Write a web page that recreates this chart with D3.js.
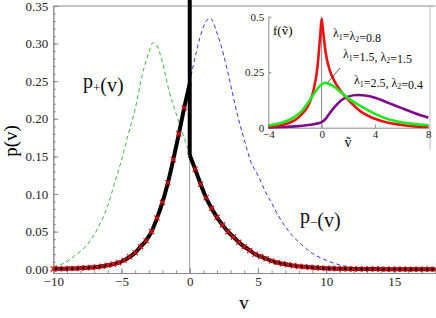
<!DOCTYPE html>
<html>
<head>
<meta charset="utf-8">
<script src="https://cdn.jsdelivr.net/npm/d3@7"></script>
<style>
  body { margin: 0; background: #fff; }
  svg { display: block; font-family: "Liberation Serif", "DejaVu Serif", serif; }
</style>
</head>
<body>
<svg id="chart"></svg>
<script>
// main chart: p(v), left branch (v <= 0) and right branch (v >= 0)
var leftV = [-10, -9.6, -9.2, -8.8, -8.4, -8, -7.6, -7.2, -6.8, -6.4, -6, -5.6, -5.2,
  -4.8, -4.4, -4, -3.6, -3.2, -2.8, -2.4, -2, -1.6, -1.2, -0.8, -0.4, 0];
var leftP = [0.0005, 0.0006, 0.0007, 0.0009, 0.0011, 0.0015, 0.0019, 0.0024, 0.0031, 0.004,
  0.0052, 0.0068, 0.0088, 0.012, 0.0165, 0.022, 0.03, 0.038, 0.05, 0.068, 0.089, 0.115,
  0.146, 0.18, 0.215, 0.247];
var rightV = [0, 0.4, 0.8, 1.2, 1.6, 2, 2.4, 2.8, 3.2, 3.6, 4, 4.4, 4.8, 5.2, 5.6, 6, 6.4,
  6.8, 7.2, 7.6, 8, 8.4, 8.8, 9.2, 9.6, 10, 10.4, 10.8, 11.2, 11.6, 12, 12.4, 12.8, 13.2,
  13.6, 14, 14.4, 14.8, 15.2, 15.6, 16, 16.4, 16.8, 17.2, 17.6, 18];
var rightP = [0.152, 0.133, 0.113, 0.095, 0.081, 0.069, 0.059, 0.05, 0.043, 0.036, 0.03,
  0.025, 0.02, 0.017, 0.014, 0.011, 0.009, 0.0073, 0.0059, 0.0048, 0.0038, 0.0032, 0.0026,
  0.0021, 0.0016, 0.0012, 0.001, 0.0008, 0.0006, 0.0005, 0.0004, 0.0003, 0.0003, 0.0002,
  0.0002, 0.0002, 0.0001, 0.0001, 0.0001, 0.0001, 0.0001, 0, 0, 0, 0, 0];
var deltaTop = 0.36;

// dashed p+(v) and p-(v)
var plusV = [-10, -9, -8.5, -8, -7.5, -7, -6.5, -6, -5.5, -5, -4.5, -4, -3.5, -3, -2.7,
  -2.4, -2, -1.5, -1, -0.5, 0];
var plusP = [0.0035, 0.01, 0.017, 0.024, 0.033, 0.046, 0.063, 0.085, 0.115, 0.145, 0.18,
  0.213, 0.257, 0.288, 0.301, 0.297, 0.275, 0.236, 0.207, 0.18, 0.152];
var minusV = [0, 0.25, 0.5, 0.75, 1, 1.5, 2, 2.5, 3, 3.5, 4, 4.5, 5, 5.5, 6, 6.5, 7, 7.5,
  8, 9, 10, 11, 12, 13, 14, 16, 18];
var minusP = [0.248, 0.27, 0.29, 0.308, 0.322, 0.334, 0.314, 0.284, 0.245, 0.205, 0.172,
  0.142, 0.125, 0.105, 0.088, 0.071, 0.057, 0.045, 0.036, 0.021, 0.012, 0.0057, 0.0025,
  0.001, 0.0004, 0, 0];

var xTicks = [-10, -5, 0, 5, 10, 15];
var yTicks = [0, 0.05, 0.1, 0.15, 0.2, 0.25, 0.3, 0.35];

// inset: f(v~)
var insetV = [-4, -3, -2.5, -2, -1.5, -1, -0.6, -0.3, -0.1, 0, 0.1, 0.3, 0.6, 1, 1.5, 2,
  3, 4, 5, 6, 7, 8];
var redF = [0.004, 0.012, 0.02, 0.034, 0.06, 0.1, 0.17, 0.28, 0.42, 0.49, 0.44, 0.34,
  0.26, 0.205, 0.16, 0.125, 0.07, 0.04, 0.022, 0.012, 0.006, 0.003];
var greenV = [-4, -3, -2, -1.5, -1, -0.5, 0, 0.3, 0.6, 1, 1.5, 2, 3, 4, 5, 6, 7, 8];
var greenF = [0.01, 0.022, 0.05, 0.075, 0.115, 0.16, 0.195, 0.202, 0.196, 0.182, 0.157,
  0.132, 0.095, 0.062, 0.038, 0.024, 0.016, 0.011];
var purpleV = [-4, -3, -2, -1, -0.5, 0, 0.3, 0.6, 1, 1.5, 2, 2.7, 3.5, 4, 5, 6, 7, 8];
var purpleF = [0.001, 0.003, 0.006, 0.012, 0.017, 0.025, 0.04, 0.065, 0.095, 0.125, 0.14,
  0.147, 0.143, 0.135, 0.112, 0.088, 0.065, 0.045];
var insetXTicks = [-4, 0, 4, 8];
var insetYTicks = [0, 0.25, 0.5];
var insetYLabels = ["0", "0.25", "0.5"];

var dimensions = { width: 436, height: 318 };
var frame = { left: 53.3, right: 435.3, top: 6, bottom: 273 };

var svg = d3.select("#chart")
  .attr("width", dimensions.width)
  .attr("height", dimensions.height);

var xScale = d3.scaleLinear().domain([-10, 18]).range([frame.left, frame.right]);
var yScale = d3.scaleLinear().domain([-0.005, 0.35]).range([frame.bottom, frame.top]);

var axisColor = "#8a8a8a";

// frame
svg.append("line")
  .attr("x1", frame.left).attr("x2", frame.right)
  .attr("y1", frame.top).attr("y2", frame.top)
  .attr("stroke", axisColor);

// v = 0 line
svg.append("line")
  .attr("x1", xScale(0)).attr("x2", xScale(0))
  .attr("y1", frame.top).attr("y2", frame.bottom)
  .attr("stroke", "#999").attr("stroke-width", 1);

function styleAxis(g, size) {
  g.select(".domain").attr("stroke", axisColor);
  g.selectAll(".tick line").attr("stroke", axisColor);
  g.selectAll(".tick text")
    .attr("fill", "#222")
    .style("font-size", size + "px")
    .style("font-family", "'Liberation Serif', 'DejaVu Serif', serif");
}

var yMinor = svg.append("g")
  .attr("transform", "translate(" + frame.left + ",0)")
  .call(d3.axisLeft(yScale).tickValues(d3.range(0, 0.351, 0.01)).tickSize(-2.5).tickFormat(""));
styleAxis(yMinor, 13);
var yAxis = svg.append("g")
  .attr("transform", "translate(" + frame.left + ",0)")
  .call(d3.axisLeft(yScale).tickValues(yTicks).tickSize(-5).tickPadding(5).tickFormat(d3.format(".2f")));
styleAxis(yAxis, 13);

var xMinor = svg.append("g")
  .attr("transform", "translate(0," + frame.bottom + ")")
  .call(d3.axisBottom(xScale).tickValues(d3.range(-10, 18.1, 1)).tickSize(-2.5).tickFormat(""));
styleAxis(xMinor, 13);
var xAxis = svg.append("g")
  .attr("transform", "translate(0," + frame.bottom + ")")
  .call(d3.axisBottom(xScale).tickValues(xTicks).tickSize(-5).tickPadding(4).tickSizeOuter(0));
styleAxis(xAxis, 13);

// axis labels
svg.append("text")
  .attr("x", 244).attr("y", 309)
  .attr("text-anchor", "middle")
  .style("font-size", "19px")
  .text("v");
svg.append("text")
  .attr("transform", "translate(17,141) rotate(-90)")
  .attr("text-anchor", "middle")
  .style("font-size", "19px")
  .text("p(v)");

var line = d3.line()
  .x((d) => xScale(d[0]))
  .y((d) => yScale(d[1]))
  .curve(d3.curveMonotoneX);

// dashed curves
svg.append("path")
  .datum(plusV.map((v, i) => [v, plusP[i]]))
  .attr("d", line)
  .attr("fill", "none")
  .attr("stroke", "#3fb53f")
  .attr("stroke-width", 1)
  .attr("stroke-dasharray", "4,3");
svg.append("path")
  .datum(minusV.map((v, i) => [v, minusP[i]]))
  .attr("d", line)
  .attr("fill", "none")
  .attr("stroke", "#3434f0")
  .attr("stroke-width", 1)
  .attr("stroke-dasharray", "4,3");

// black p(v)
var leftData = leftV.map((v, i) => [v, leftP[i]]);
var rightData = rightV.map((v, i) => [v, rightP[i]]);
[leftData, rightData].forEach(function (data) {
  svg.append("path")
    .datum(data)
    .attr("d", line)
    .attr("fill", "none")
    .attr("stroke", "#000")
    .attr("stroke-width", 4);
});
svg.append("line")
  .attr("x1", xScale(0)).attr("x2", xScale(0))
  .attr("y1", yScale(rightP[0])).attr("y2", yScale(deltaTop))
  .attr("stroke", "#000")
  .attr("stroke-width", 4);

// red x markers
var markers = leftData.concat(rightData).filter((d) => d[0] !== 0);
var m = 2.6;
svg.selectAll("path.marker")
  .data(markers)
  .enter()
  .append("path")
  .attr("class", "marker")
  .attr("d", function (d) {
    var cx = xScale(d[0]), cy = yScale(d[1]);
    return "M" + (cx - m) + "," + (cy - m) + "L" + (cx + m) + "," + (cy + m) +
      "M" + (cx - m) + "," + (cy + m) + "L" + (cx + m) + "," + (cy - m);
  })
  .attr("stroke", "#f01010")
  .attr("stroke-width", 1.2)
  .attr("fill", "none");

// labels with subscripts
function richText(g, x, y, size, parts, anchor) {
  var t = g.append("text")
    .attr("x", x).attr("y", y)
    .attr("text-anchor", anchor || "start")
    .style("font-size", size + "px")
    .attr("fill", "#111");
  parts.forEach(function (p) {
    if (p.sub) {
      t.append("tspan").attr("dy", size * 0.22).style("font-size", (size * 0.65) + "px").text(p.sub);
      t.append("tspan").attr("dy", -size * 0.22).text("");
    } else {
      t.append("tspan").text(p.t);
    }
  });
  return t;
}
richText(svg, 83, 88, 20, [{ t: "p" }, { sub: "+" }, { t: "(v)" }]);
richText(svg, 300, 223, 20, [{ t: "p" }, { sub: "\u2212" }, { t: "(v)" }]);

// inset
var ix = d3.scaleLinear().domain([-4, 8]).range([268.3, 428.3]);
var iy = d3.scaleLinear().domain([0, 0.5]).range([127.7, 16.7]);
var inset = svg.append("g");

inset.append("line")
  .attr("x1", 430).attr("x2", 430)
  .attr("y1", frame.top).attr("y2", 150)
  .attr("stroke", "#bbb");

inset.append("line")
  .attr("x1", ix(0)).attr("x2", ix(0))
  .attr("y1", iy(0)).attr("y2", iy(0.5))
  .attr("stroke", "#888");

var iyAxis = inset.append("g")
  .attr("transform", "translate(" + ix(-4) + ",0)")
  .call(d3.axisLeft(iy).tickValues(insetYTicks).tickSize(-3).tickPadding(4).tickSizeOuter(0)
    .tickFormat((d, i) => insetYLabels[i]));
styleAxis(iyAxis, 11);
var ixAxis = inset.append("g")
  .attr("transform", "translate(0," + iy(0) + ")")
  .call(d3.axisBottom(ix).tickValues(insetXTicks).tickSize(-3).tickPadding(3).tickSizeOuter(0));
styleAxis(ixAxis, 11);

var iline = d3.line()
  .x((d) => ix(d[0]))
  .y((d) => iy(d[1]))
  .curve(d3.curveMonotoneX);

[[purpleV, purpleF, "#800a8c"], [insetV, redF, "#ee1111"], [greenV, greenF, "#1ee81e"]]
  .forEach(function (s) {
    inset.append("path")
      .datum(s[0].map((v, i) => [v, s[1][i]]))
      .attr("d", iline)
      .attr("fill", "none")
      .attr("stroke", s[2])
      .attr("stroke-width", 2.6);
  });

inset.append("text")
  .attr("x", 273).attr("y", 35)
  .style("font-size", "13px")
  .text("f(\u1E7D)");
inset.append("text")
  .attr("x", 348).attr("y", 147)
  .attr("text-anchor", "middle")
  .style("font-size", "14px")
  .text("\u1E7D");

richText(inset, 333, 37, 12, [{ t: "\u03BB" }, { sub: "1" }, { t: "=\u03BB" }, { sub: "2" }, { t: "=0.8" }]);
richText(inset, 343, 58, 12, [{ t: "\u03BB" }, { sub: "1" }, { t: "=1.5, \u03BB" }, { sub: "2" }, { t: "=1.5" }]);
richText(inset, 354, 84, 12, [{ t: "\u03BB" }, { sub: "1" }, { t: "=2.5, \u03BB" }, { sub: "2" }, { t: "=0.4" }]);

inset.append("line")
  .attr("x1", 328).attr("y1", 82)
  .attr("x2", 340).attr("y2", 68)
  .attr("stroke", "#333")
  .attr("stroke-width", 0.8);
</script>
</body>
</html>
